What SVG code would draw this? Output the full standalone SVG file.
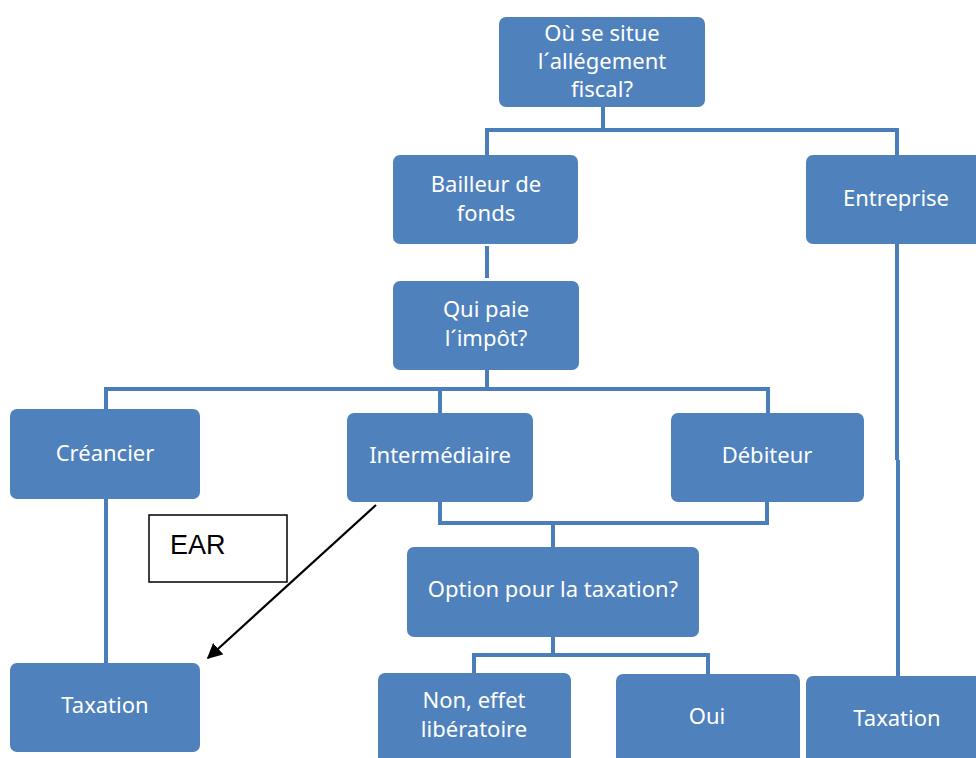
<svg xmlns="http://www.w3.org/2000/svg" width="976" height="758" viewBox="0 0 976 758">
<style>
.box{fill:#4F81BD;}
.t{font-family:"Noto Sans","Open Sans",sans-serif;font-size:22px;fill:#FFFFFF;text-anchor:middle;}
.c{fill:none;stroke:#4A7EBB;stroke-width:4;}
.ear{fill:#FFFFFF;stroke:#000000;stroke-width:1.5;}
.et{font-family:"Liberation Sans",Arial,sans-serif;font-size:27px;fill:#000000;}
</style>
<defs>
<marker id="ah" viewBox="0 0 10 10" refX="9" refY="5" markerWidth="7" markerHeight="7" orient="auto" markerUnits="strokeWidth">
<path d="M0,0 L10,5 L0,10 z" fill="#000000"/>
</marker>
</defs>
<rect width="976" height="758" fill="#FFFFFF"/>
<g id="connectors">
<path class="c" d="M603,107 V130 M487,155 V130 H897 V155"/>
<path class="c" d="M487,246 V278"/>
<path class="c" d="M487,370 V389 M106,409 V389 H768 V413 M440,389 V413"/>
<path class="c" d="M440,502 V523 H767 V502 M553,523 V547"/>
<path class="c" d="M553,637 V655 M474,673 V655 H708 V674"/>
<path class="c" d="M106,499 V663"/>
<path class="c" d="M897,244 V460 M898,460 V676"/>
<line x1="376" y1="505" x2="208" y2="658" stroke="#000000" stroke-width="2.2" marker-end="url(#ah)"/>
</g>
<g id="n-top"><rect class="box" x="499" y="17" width="206" height="90" rx="7"/>
<text class="t" x="602" y="41">Où se situe</text><text class="t" x="602" y="69">l´allégement</text><text class="t" x="602" y="97">fiscal?</text></g>
<g id="n-bailleur"><rect class="box" x="393" y="155" width="185" height="89" rx="7"/>
<text class="t" x="486" y="192">Bailleur de</text><text class="t" x="486" y="221">fonds</text></g>
<g id="n-entreprise"><rect class="box" x="806" y="155" width="180" height="89" rx="7"/>
<text class="t" x="896" y="206">Entreprise</text></g>
<g id="n-qui"><rect class="box" x="393" y="281" width="186" height="89" rx="7"/>
<text class="t" x="486" y="317">Qui paie</text><text class="t" x="486" y="346">l´impôt?</text></g>
<g id="n-creancier"><rect class="box" x="10" y="409" width="190" height="90" rx="7"/>
<text class="t" x="105" y="461">Créancier</text></g>
<g id="n-intermediaire"><rect class="box" x="347" y="413" width="186" height="89" rx="7"/>
<text class="t" x="440" y="463">Intermédiaire</text></g>
<g id="n-debiteur"><rect class="box" x="671" y="413" width="193" height="89" rx="7"/>
<text class="t" x="767" y="463">Débiteur</text></g>
<g id="n-ear"><rect class="ear" x="149" y="515" width="138" height="67"/>
<text class="et" x="170" y="554">EAR</text></g>
<g id="n-option"><rect class="box" x="407" y="547" width="292" height="90" rx="7"/>
<text class="t" x="553" y="597">Option pour la taxation?</text></g>
<g id="n-tax-left"><rect class="box" x="10" y="663" width="190" height="89" rx="7"/>
<text class="t" x="105" y="713">Taxation</text></g>
<g id="n-non"><rect class="box" x="378" y="673" width="193" height="100" rx="7"/>
<text class="t" x="474" y="708">Non, effet</text><text class="t" x="474" y="737">libératoire</text></g>
<g id="n-oui"><rect class="box" x="616" y="674" width="184" height="100" rx="7"/>
<text class="t" x="707" y="724">Oui</text></g>
<g id="n-tax-right"><rect class="box" x="806" y="676" width="180" height="100" rx="7"/>
<text class="t" x="897" y="726">Taxation</text></g>
</svg>
